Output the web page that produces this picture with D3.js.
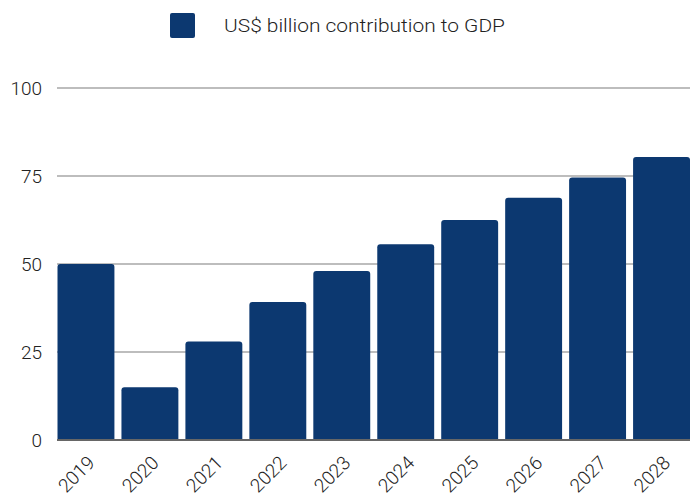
<!DOCTYPE html>
<html><head><meta charset="utf-8">
<script src="https://cdn.jsdelivr.net/npm/d3@7"></script>
<style>body{margin:0;background:#fff}svg{display:block}text{font-family:Roboto,"Liberation Sans Narrow",sans-serif;font-weight:300;fill:#222}</style>
</head><body><svg id="c" width="690" height="501"></svg>
<script>
const years = ["2019","2020","2021","2022","2023","2024","2025","2026","2027","2028"];
const values = [50, 15, 28, 39.2, 48, 55.6, 62.5, 68.8, 74.6, 80.4];
const yTicks = [0, 25, 50, 75, 100];
const seriesName = "US$ billion contribution to GDP";

const svg = d3.select("#c");
const x = d3.scaleBand().domain(years).range([57.5, 690]).paddingInner(0.11).paddingOuter(0);
const y = d3.scaleLinear().domain([0, 100]).range([440, 88]);

// gridlines
svg.append("g").selectAll("line").data(yTicks.filter(d => d > 0)).join("line")
  .attr("x1", 57).attr("x2", 690).attr("y1", d => y(d)).attr("y2", d => y(d))
  .attr("stroke", "#bdbdbd").attr("stroke-width", 2);

// y labels
svg.append("g").selectAll("text").data(yTicks).join("text")
  .attr("x", 42).attr("y", d => y(d)).attr("dy", "0.35em")
  .attr("text-anchor", "end").attr("font-size", 19).text(d => d);

// bars with rounded top corners
const r = 3;
svg.append("g").selectAll("path").data(values).join("path")
  .attr("fill", "#0c3870")
  .attr("d", (d, i) => {
    const x0 = x(years[i]), w = x.bandwidth(), y0 = y(d), yb = y(0);
    return `M${x0},${yb}V${y0 + r}Q${x0},${y0} ${x0 + r},${y0}H${x0 + w - r}Q${x0 + w},${y0} ${x0 + w},${y0 + r}V${yb}Z`;
  });

// baseline
svg.append("line").attr("x1", 57).attr("x2", 690).attr("y1", y(0)).attr("y2", y(0))
  .attr("stroke", "#666").attr("stroke-width", 2);

// x labels
svg.append("g").selectAll("text").data(years).join("text")
  .attr("text-anchor", "end").attr("font-size", 19)
  .attr("transform", d => `translate(${x(d) + x.bandwidth() / 2 + 10},${464}) rotate(-45)`)
  .text(d => d);

// legend
svg.append("rect").attr("x", 170).attr("y", 13).attr("width", 25).attr("height", 25)
  .attr("rx", 2).attr("fill", "#0c3870");
svg.append("text").attr("x", 224).attr("y", 25.5).attr("dy", "0.35em")
  .attr("font-size", 19).attr("textLength", 281).attr("lengthAdjust", "spacingAndGlyphs").text(seriesName);
</script></body></html>
